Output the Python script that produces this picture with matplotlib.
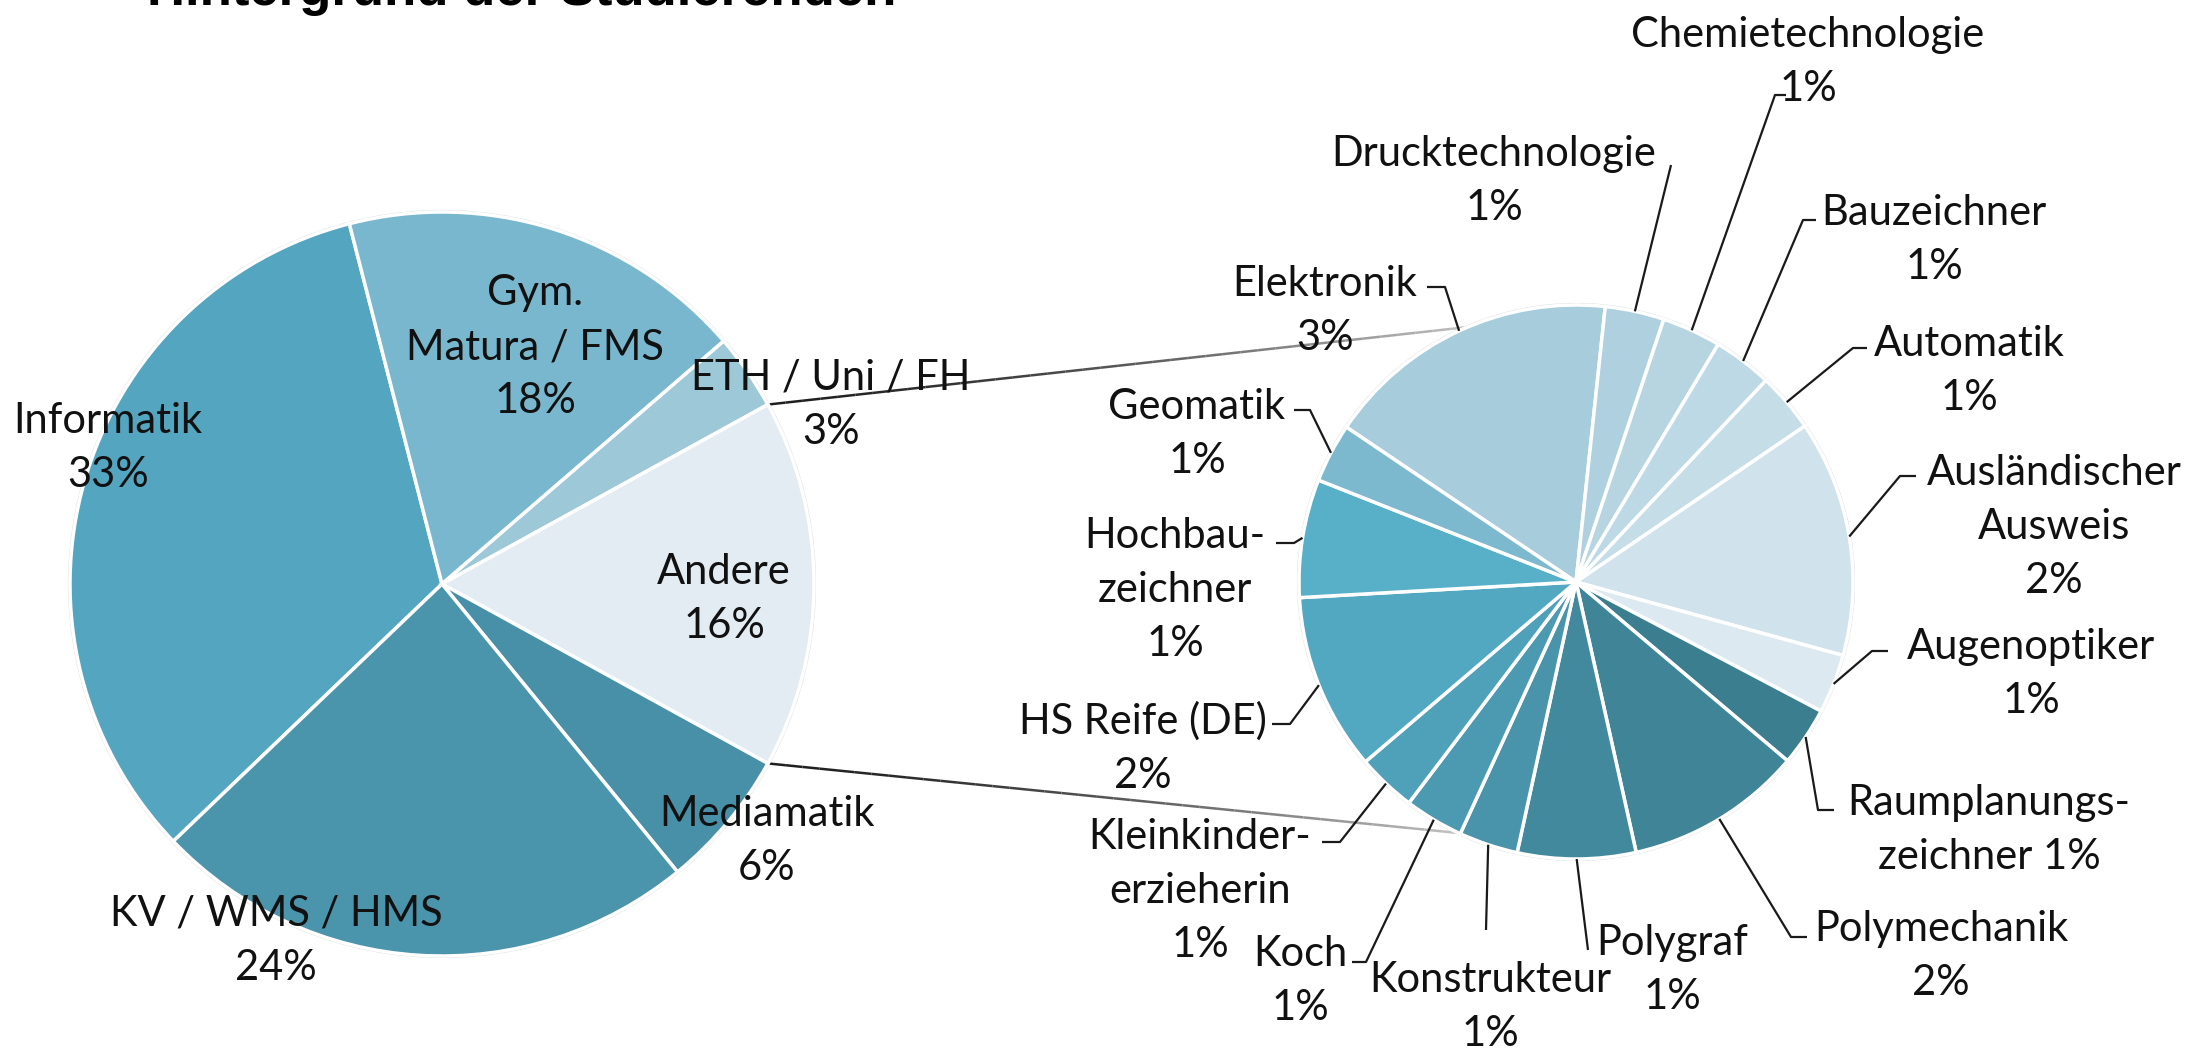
import numpy as np
import matplotlib
matplotlib.use("Agg")
import matplotlib.pyplot as plt
from matplotlib.patches import Circle
from matplotlib.collections import LineCollection

# main pie, counts
main_labels = ["Informatik", "Gym.\nMatura / FMS", "ETH / Uni / FH", "Andere",
               "Mediamatik", "KV / WMS / HMS"]
main_counts = [60, 32, 6, 29, 11, 43]

# breakdown of "Andere"
other_labels = ["Elektronik", "Drucktechnologie", "Chemietechnologie", "Bauzeichner",
                "Automatik", "Ausländischer\nAusweis", "Augenoptiker", "Raumplanungs-\nzeichner",
                "Polymechanik", "Polygraf", "Konstrukteur", "Koch", "Kleinkinder-\nerzieherin",
                "HS Reife (DE)", "Hochbau-\nzeichner", "Geomatik"]
other_counts = [5, 1, 1, 1, 1, 4, 1, 1, 3, 2, 1, 1, 1, 3, 2, 1]

title = "Hintergrund der Studierenden"

# styles
main_colors = ["#54A5BF", "#78B7CD", "#9DC8D7", "#E3ECF3", "#4890A7", "#4A94AC"]
other_colors = ["#A7CCDB", "#AFD0DE", "#B6D5E1", "#BDD9E5", "#C5DDE7", "#D0E3EC",
                "#DCE9F0", "#3A7E90", "#3F8497", "#43899E", "#4993AB", "#4C99B2",
                "#4FA0B9", "#52A7C1", "#57AFC8", "#7CB9CE"]
font = "Lato"
fs = 30
pitch = 54  # px between text lines

W, H = 2199, 1050
fig = plt.figure(figsize=(W / 100, H / 100), dpi=100)
ax = fig.add_axes([0, 0, 1, 1])

total = sum(main_counts)


def pct(v):
    return f"{round(100 * v / total)}%"


def Y(y):
    return H - y


def label(x, yc, lines):
    # one text per line, block centred on (x, yc)
    n = len(lines)
    for i, s in enumerate(lines):
        yl = yc - (n - 1) / 2 * pitch + i * pitch + 15
        ax.text(x, Y(yl), s, ha="center", va="baseline", fontsize=fs,
                family=font, color="#111111")


# ---- left pie ----
lc = (442, Y(584))
lr = 372
k = main_labels.index("Andere")
start = 360 * (sum(main_counts[:k]) + main_counts[k] / 2) / total
wl, _ = ax.pie(main_counts, colors=main_colors, startangle=start, counterclock=False,
               center=lc, radius=lr,
               wedgeprops=dict(edgecolor="white", linewidth=2.5))
ax.add_patch(Circle(lc, lr + 1, fill=False, edgecolor="#d5dce0", lw=1.5, zorder=0.5))

# ---- right pie ----
rc = (1576, Y(582))
rr = 277
wr, _ = ax.pie(other_counts, colors=other_colors, startangle=146, counterclock=False,
               center=rc, radius=rr,
               wedgeprops=dict(edgecolor="white", linewidth=2.5))
ax.add_patch(Circle(rc, rr + 1, fill=False, edgecolor="#d5dce0", lw=1.5, zorder=0.5))


def on_circle(c, r, ang):
    a = np.radians(ang)
    return c[0] + r * np.cos(a), c[1] + r * np.sin(a)


# connector lines between the pies (dark to light)
w_and = wl[k]
for a_left, a_right in [(w_and.theta2, 113), (w_and.theta1, -115)]:
    p0 = np.array(on_circle(lc, lr, a_left))
    p1 = np.array(on_circle(rc, rr, a_right))
    n = 40
    pts = [p0 + (p1 - p0) * t for t in np.linspace(0, 1, n + 1)]
    segs = [[pts[i], pts[i + 1]] for i in range(n)]
    cols = [str(0.12 + 0.65 * (i / n) ** 1.5) for i in range(n)]
    ax.add_collection(LineCollection(segs, colors=cols, linewidths=1.8, zorder=0.4))

# ---- labels of the left pie ----
main_pos = [(108, 445), (535, 344), (831, 402), (724, 596), (767, 838), (276, 938)]
for lab, v, (x, y) in zip(main_labels, main_counts, main_pos):
    label(x, y, lab.split("\n") + [pct(v)])

# ---- labels of the right pie ----
other_pos = [(1325, 308), (1494, 178), (1808, 59), (1934, 237), (1969, 368),
             (2054, 524), (2031, 671), (1989, 827), (1941, 953), (1672, 967),
             (1490, 1004), (1300, 978), (1200, 888), (1143, 746), (1175, 587),
             (1197, 431)]
# leader: bend point, end point next to the text
leaders = [((1445, 287), (1427, 287)), ((1671, 165), (1671, 165)),
           ((1775, 95), (1786, 95)), ((1803, 220), (1816, 220)),
           ((1853, 348), (1867, 348)), ((1900, 476), (1916, 476)),
           ((1872, 651), (1888, 651)), ((1818, 810), (1834, 810)),
           ((1791, 937), (1807, 937)), ((1588, 950), (1588, 950)),
           ((1486, 930), (1486, 930)), ((1366, 962), (1352, 962)),
           ((1340, 842), (1322, 842)), ((1290, 724), (1272, 724)),
           ((1294, 543), (1276, 543)), ((1310, 410), (1294, 410))]
for lab, v, (x, y), w, (b, e) in zip(other_labels, other_counts, other_pos, wr, leaders):
    lines = lab.split("\n")
    if lab.startswith("Raumplanungs"):
        lines[-1] = lines[-1] + " " + pct(v)
    else:
        lines.append(pct(v))
    label(x, y, lines)
    px, py = on_circle(rc, rr, (w.theta1 + w.theta2) / 2)
    ax.plot([px, b[0], e[0]], [py, Y(b[1]), Y(e[1])], color="#1a1a1a", lw=1.6,
            solid_capstyle="butt", zorder=3)

# title, cut off by the top edge like in the source
fig.text(147 / W, (H - 5) / H, title, ha="left", va="baseline", fontsize=38,
         fontweight="bold", family="Liberation Sans", color="black")

ax.set_xlim(0, W)
ax.set_ylim(0, H)
ax.set_aspect("auto")
ax.axis("off")

fig.savefig("out.png", dpi=100, facecolor="white")
